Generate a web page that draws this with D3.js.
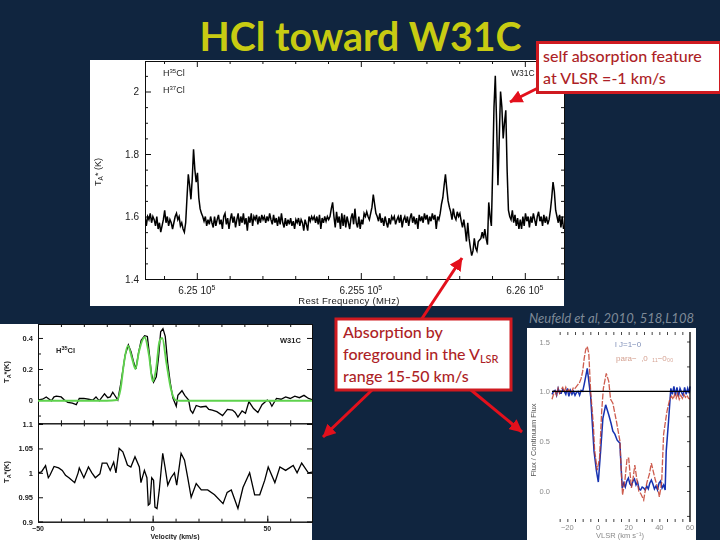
<!DOCTYPE html>
<html><head><meta charset="utf-8">
<script src="https://cdn.jsdelivr.net/npm/d3@7/dist/d3.min.js"></script>
<style>html,body{margin:0;padding:0;background:#10253f}svg{display:block}</style>
</head><body><svg id="c" width="720" height="540"></svg>
<script>
// ---- main spectrum: antenna temperature on a 4 MHz grid ----
const mainStart = 624842, mainStep = 4;
const mainT = [
1.60,1.57,1.60,1.59,1.61,1.58,1.60,1.59,1.57,1.60,
1.56,1.58,1.55,1.57,1.59,1.62,1.58,1.60,1.57,1.59,
1.58,1.56,1.58,1.60,1.61,1.59,1.60,1.57,1.58,1.56,
1.55,1.58,1.66,1.735,1.70,1.655,1.72,1.815,1.75,1.71,
1.74,1.66,1.625,1.61,1.60,1.585,1.60,1.57,1.59,1.575,
1.60,1.58,1.565,1.60,1.57,1.59,1.605,1.575,1.59,1.56,
1.60,1.61,1.575,1.595,1.56,1.59,1.61,1.58,1.60,1.565,
1.59,1.61,1.57,1.60,1.58,1.61,1.575,1.595,1.555,1.60,
1.58,1.61,1.57,1.60,1.59,1.605,1.575,1.60,1.58,1.605,
1.59,1.60,1.58,1.60,1.585,1.61,1.59,1.575,1.605,1.58,
1.595,1.57,1.60,1.575,1.61,1.58,1.565,1.595,1.57,1.59,
1.575,1.595,1.57,1.585,1.56,1.59,1.58,1.595,1.57,1.59,
1.58,1.555,1.59,1.575,1.555,1.60,1.585,1.60,1.59,1.60,
1.58,1.60,1.575,1.605,1.56,1.595,1.58,1.60,1.585,1.60,
1.59,1.60,1.625,1.645,1.60,1.565,1.615,1.58,1.60,1.56,
1.61,1.57,1.605,1.565,1.60,1.58,1.56,1.595,1.61,1.575,
1.625,1.58,1.565,1.60,1.56,1.59,1.575,1.61,1.60,1.615,
1.60,1.59,1.61,1.63,1.67,1.64,1.61,1.60,1.585,1.61,
1.58,1.595,1.57,1.60,1.58,1.565,1.595,1.575,1.60,1.59,
1.60,1.575,1.59,1.60,1.58,1.605,1.565,1.59,1.60,1.58,
1.60,1.57,1.595,1.61,1.58,1.60,1.575,1.595,1.56,1.605,
1.585,1.60,1.58,1.61,1.59,1.605,1.575,1.60,1.585,1.61,
1.59,1.605,1.56,1.60,1.59,1.61,1.64,1.66,1.70,1.735,
1.69,1.65,1.63,1.615,1.59,1.625,1.60,1.59,1.615,1.60,
1.61,1.585,1.565,1.59,1.56,1.52,1.58,1.53,1.50,1.475,
1.49,1.53,1.50,1.49,1.52,1.525,1.53,1.55,1.53,1.56,
1.53,1.51,1.645,1.60,1.57,1.75,1.95,2.05,1.90,1.70,
1.85,2.00,1.95,1.85,1.90,1.94,1.75,1.62,1.60,1.59,
1.62,1.58,1.605,1.57,1.595,1.56,1.59,1.56,1.60,1.57,
1.61,1.585,1.60,1.565,1.60,1.58,1.61,1.59,1.57,1.60,
1.615,1.585,1.60,1.57,1.605,1.58,1.60,1.575,1.59,1.62,
1.66,1.71,1.68,1.62,1.60,1.58,1.605,1.565,1.60,1.56];
const mainYTicks = [2,1.8,1.6,1.4];
const mainXMajor = [625000,625500,626000];

// ---- lower-left panel: H35Cl line and continuum ----
const upV = [-50,-48,-46.4,-44.2,-43,-42,-39.9,-38.5,-37,-35,-33.3,-32,-30,-28,-26,-24.7,-23.3,-21,-19.6,-18.5,-17.4,-15.2,-14,-13,-12,-10.6,-9.4,-8.4,-7.3,-6.2,-5,-3.5,-2.3,-1.3,-0.6,0.4,1.6,2.6,3.5,4.5,5.5,6.6,7.7,8.8,10.3,11,12.8,14,15.7,16.5,17.5,19,21,23.3,24.5,26,28,30.5,32.6,34.8,36,37.2,39,40.5,42,44,45.9,47.7,50,51,52,54,56,58,60,62,64,66,68,70];
const upT = [0,0.005,0.02,-0.005,0.02,0.025,0.02,0,-0.015,-0.02,-0.03,0.01,0.01,0.005,0,0.02,-0.005,0.04,0.015,0.02,0.05,0,0.097,0.19,0.29,0.355,0.31,0.25,0.2,0.3,0.385,0.415,0.41,0.28,0.175,0.115,0.15,0.28,0.44,0.46,0.41,0.235,0.11,0.015,-0.04,0.03,0.06,0.03,0,-0.065,-0.085,-0.035,-0.045,-0.04,-0.06,-0.065,-0.075,-0.1,-0.06,-0.065,-0.08,-0.11,-0.07,-0.085,-0.01,-0.055,-0.08,-0.03,0,-0.01,-0.04,0.01,0.005,0.02,0.01,0.025,0.015,0.03,0.01,0];
const fitV = [-50,-20,-15.5,-14,-12.5,-10.8,-9,-7.5,-6,-3.5,-1.5,0,1.5,3,4.2,6,8,10,12,70];
const fitT = [-0.005,-0.005,0,0.07,0.24,0.35,0.27,0.2,0.31,0.405,0.28,0.12,0.2,0.38,0.4,0.24,0.07,0,-0.005,-0.005];
const loV = [-50,-48.5,-46.7,-45.5,-44.8,-43,-41,-39.4,-38,-36.5,-34,-32.5,-32,-30,-28,-26.5,-25,-23,-22,-20,-18.5,-17,-16,-14.6,-13,-12,-11,-9.5,-7.7,-5.8,-5.1,-3.6,-2.5,-1.9,-1.2,-0.4,0.4,1,1.9,2.9,4.4,5.4,6.6,8,9.5,10.5,12.4,13.9,15.3,16.8,19,21.2,24,27,30.7,32.5,34.3,37.2,39.4,42.3,44.5,46.7,48.9,50.4,53.3,55.5,58,61.3,63,65,67.9,70];
const loT = [1,1.002,1.015,0.99,0.995,1.013,1.01,1.005,0.995,0.99,0.98,1.0,1.01,0.99,1.012,1.0,0.99,0.998,1.02,1.02,1.005,1.022,1.0,1.05,1.043,1.03,1.016,1.012,1.033,1.012,0.98,1.005,0.99,0.934,0.937,0.99,0.985,0.93,0.927,0.965,1.04,1.012,0.975,0.99,1.0,0.975,1.04,1.026,0.99,0.95,0.978,0.965,0.965,0.955,0.937,0.96,0.965,0.927,0.97,1.0,0.955,0.955,0.985,1.012,0.98,1.012,1.005,1.015,1.0,1.02,1.0,1.002];
const leftUpTicks = [0.4,0.2,0];
const leftLoTicks = [1.1,1.05,1,0.95,0.9];
const leftXLabels = [-50,0,50];

// ---- lower-right panel: flux / continuum flux ----
const blueV = [-30,-29,-28,-27,-26,-25,-24,-23,-22,-21,-20,-19,-18,-17,-16,-15,-14,-13,-12,-11,-10,-9,-7,-4.8,-2.6,-1,0.2,1.7,3.2,5,7,8.5,9.7,11,12.5,14.3,14.7,15.8,16.8,17.8,18.8,19.8,20.8,21.8,22.8,23.8,24.8,25.8,26.8,27.8,28.8,29.8,30.8,31.8,32.8,33.8,34.8,35.8,36.8,37.8,38.8,39.8,40.8,41.8,42.8,43.8,44.5,46,47.5,48.5,49.5,50.5,51.5,52.5,53.5,54.5,55.5,56.5,57.5,58.5,59.5,60];
const blueF = [0.97,1.0,1.01,0.96,1.03,0.98,0.98,1.02,1.0,0.97,1.03,0.95,1.01,0.97,1.0,0.96,0.99,1.0,0.96,1.01,1.0,1.07,1.23,0.95,0.4,0.2,0.09,0.4,0.73,0.865,0.765,0.68,0.6,0.57,0.51,0.48,0.35,0.03,0.08,0.04,0.1,0.13,0.07,0.05,0.1,0.12,0.06,0.09,0.02,0.01,0.04,0.03,0.01,0.05,0.02,0.08,0.11,0.07,0.02,0.05,0.01,0.08,0.1,0.03,0.06,0.01,0.4,0.7,1.03,0.97,1.05,0.96,1.04,0.95,1.03,0.99,0.96,1.04,0.97,1.03,0.98,1.05];
const redV = [-30,-29,-28,-27,-26,-25,-24,-23,-22,-21,-20,-19,-18,-17,-16,-15,-14,-13,-12,-11,-10,-9,-8,-7,-6,-4.8,-3,-2.2,-0.5,1,2.4,3.5,5.4,7,8.2,9.7,12,14.3,14.7,16,17.5,19,20,21.8,23,24,25.5,26.6,28,29.8,31,32,33.5,34.8,36,37.4,39,40,41.5,42.8,44,45,46,47,48,49,50,51,52,53,54,55,56,57,58,59,60];
const redF = [0.92,0.97,1.0,0.96,1.03,0.98,1.02,1.04,0.99,1.04,1.0,1.02,0.99,1.0,1.04,1.03,1.05,1.07,1.09,1.13,1.2,1.33,1.42,1.45,1.38,1.0,0.66,0.41,0.21,0.33,0.8,1.03,1.18,1.1,0.92,0.88,0.7,0.5,0.35,-0.04,0.1,0.33,0.33,0.03,0.14,0.26,0.1,0,-0.03,-0.09,0.02,0.09,0.17,0.28,0.2,0.11,0.03,-0.06,0.08,0.57,0.7,0.8,0.87,0.93,0.95,0.92,0.97,0.93,0.98,0.92,0.96,0.93,0.97,0.94,0.96,0.93,0.92];
const rightYTicks = [1.5,1,0.5,0];
const rightXTicks = [-20,0,20,40,60];

// ---- text ----
const titleText = "HCl toward W31C";
const box1Lines = ["self absorption feature","at VLSR =-1 km/s"];
const citation = "Neufeld et al, 2010, 518,L108";

const svg = d3.select("#c");
const defs = svg.append("defs");
defs.append("filter").attr("id","soft").append("feGaussianBlur").attr("stdDeviation",0.45);
defs.append("filter").attr("id","softer").append("feGaussianBlur").attr("stdDeviation",0.65);
defs.append("marker").attr("id","ah").attr("viewBox","0 0 10 10").attr("refX",9.5).attr("refY",5)
  .attr("markerWidth",13).attr("markerHeight",13).attr("markerUnits","userSpaceOnUse").attr("orient","auto")
  .append("path").attr("d","M0,0L10,5L0,10Z").attr("fill","#e3101c");
defs.append("clipPath").attr("id","cMain").append("rect").attr("x",145).attr("y",61).attr("width",419).attr("height",218);
defs.append("clipPath").attr("id","cLeft").append("rect").attr("x",38).attr("y",324).attr("width",274).attr("height",198);

svg.append("rect").attr("width",720).attr("height",540).attr("fill","#10253f");

function sty(g, col, w){
  g.selectAll(".domain").attr("stroke",col).attr("stroke-width",w);
  g.selectAll(".tick line").attr("stroke",col).attr("stroke-width",w);
  return g;
}
const FF = "Liberation Sans, Arial, sans-serif";
function ax(g, axis, tr, col, w){
  const s = g.append("g").attr("transform",tr).call(axis);
  s.attr("font-family",FF);
  sty(s,col||"#111",w||1);
  return s;
}
function range(a,b,s){const o=[];for(let v=a;v<=b+1e-9;v+=s)o.push(+v.toFixed(4));return o;}

// ===== MAIN PANEL =====
const gM = svg.append("g").attr("filter","url(#soft)");
gM.append("rect").attr("x",90).attr("y",60).attr("width",474).attr("height",246).attr("fill","#fff");
const mx = d3.scaleLinear().domain([mainStart, mainStart+419/0.328]).range([145,564]);
const my = d3.scaleLinear().domain([1.4,1.4+218/312.5]).range([279,61]);
const mf = d3.range(624900,626101,100);
const mfMajor = mf.filter(f=>mainXMajor.includes(f));
const mfMinor = mf.filter(f=>!mainXMajor.includes(f));
[[279,d3.axisBottom],[61,d3.axisTop]].forEach(([yy,A])=>{
  ax(gM, A(mx).tickValues(mfMinor).tickSize(-3).tickFormat(""), `translate(0,${yy})`);
  ax(gM, A(mx).tickValues(mfMajor).tickSize(-6).tickFormat(""), `translate(0,${yy})`);
});
const myMinor = range(1.4,2.05,0.05).filter(v=>!mainYTicks.includes(v));
[[145,d3.axisLeft],[564,d3.axisRight]].forEach(([xx,A])=>{
  ax(gM, A(my).tickValues(myMinor).tickSize(-3).tickFormat(""), `translate(${xx},0)`);
  ax(gM, A(my).tickValues(mainYTicks).tickSize(-6).tickFormat(""), `translate(${xx},0)`);
});
const tM = gM.append("g").attr("font-family",FF).attr("fill","#222");
mainYTicks.forEach(v=>tM.append("text").attr("x",139).attr("y",my(v)+3.5).attr("text-anchor","end").attr("font-size",10).text(v));
mainXMajor.forEach(f=>{
  const t=tM.append("text").attr("x",mx(f)).attr("y",294).attr("text-anchor","middle").attr("font-size",10);
  t.append("tspan").text(String(f/1e5)+" 10");
  t.append("tspan").attr("font-size",7).attr("dy",-4).text("5");
});
tM.append("text").attr("x",349).attr("y",304).attr("text-anchor","middle").attr("font-size",9.5).attr("letter-spacing",0.3).text("Rest Frequency (MHz)");
{const t=tM.append("text").attr("transform","translate(101,172) rotate(-90)").attr("text-anchor","middle").attr("font-size",9);
 t.append("tspan").text("T");t.append("tspan").attr("font-size",6.5).attr("dy",2).text("A");t.append("tspan").attr("dy",-2).text("* (K)");}
[["35",76],["37",93]].forEach(([iso,yy])=>{
  const t=tM.append("text").attr("x",163).attr("y",yy).attr("font-size",9);
  t.append("tspan").text("H");
  t.append("tspan").attr("font-size",6).attr("dy",-3).text(iso);
  t.append("tspan").attr("dy",3).text("Cl");
});
tM.append("text").attr("x",511).attr("y",76).attr("font-size",8.5).text("W31C");
gM.append("path").attr("clip-path","url(#cMain)").attr("fill","none").attr("stroke","#000").attr("stroke-width",1.5)
  .attr("d",d3.line().x((d,i)=>mx(mainStart+i*mainStep)).y(d=>my(d))(mainT));

// ===== LEFT PANEL =====
const gL = svg.append("g").attr("filter","url(#soft)");
gL.append("rect").attr("x",0).attr("y",324).attr("width",312).attr("height",216).attr("fill","#fff");
const lx = d3.scaleLinear().domain([-50,69.5]).range([38,312]);
const ly1 = d3.scaleLinear().domain([-0.15,0.49]).range([423.3,324]);
const ly2 = d3.scaleLinear().domain([0.9,1.1]).range([521.7,424]);
const lxAll = range(-50,60,10);
ax(gL,d3.axisBottom(lx).tickValues(lxAll).tickSize(-3).tickFormat(""),"translate(0,521.7)");
ax(gL,d3.axisBottom(lx).tickValues(lxAll).tickSize(3).tickFormat(""),"translate(0,423.3)");
ax(gL,d3.axisBottom(lx).tickValues(lxAll).tickSize(-3).tickFormat(""),"translate(0,423.3)");
ax(gL,d3.axisTop(lx).tickValues(lxAll).tickSize(-3).tickFormat(""),"translate(0,324)");
ax(gL,d3.axisBottom(lx).tickValues(leftXLabels).tickSize(-6).tickFormat(""),"translate(0,521.7)");
ax(gL,d3.axisBottom(lx).tickValues([0]).tickSize(4).tickFormat(""),"translate(0,421)",null,1.6).select(".domain").remove();
ax(gL,d3.axisLeft(ly1).tickValues(leftUpTicks).tickSize(-5).tickFormat(""),"translate(38,0)");
ax(gL,d3.axisLeft(ly1).tickValues([-0.1,0.1,0.3]).tickSize(-3).tickFormat(""),"translate(38,0)");
ax(gL,d3.axisLeft(ly2).tickValues(leftLoTicks).tickSize(-5).tickFormat(""),"translate(38,0)");
ax(gL,d3.axisRight(ly1).tickValues(leftUpTicks).tickSize(-5).tickFormat(""),"translate(312,0)");
ax(gL,d3.axisRight(ly2).tickValues(leftLoTicks).tickSize(-5).tickFormat(""),"translate(312,0)");
const tL = gL.append("g").attr("font-family",FF).attr("fill","#222").attr("font-weight","bold");
leftUpTicks.forEach(v=>tL.append("text").attr("x",33).attr("y",ly1(v)+3).attr("text-anchor","end").attr("font-size",7.5).text(v));
leftLoTicks.forEach(v=>tL.append("text").attr("x",33).attr("y",ly2(v)+3).attr("text-anchor","end").attr("font-size",7.5).text(v));
leftXLabels.forEach(v=>tL.append("text").attr("x",lx(v)).attr("y",530.5).attr("text-anchor","middle").attr("font-size",7).text(v<0?"\u2212"+(-v):v));
tL.append("text").attr("x",175).attr("y",539).attr("text-anchor","middle").attr("font-size",7).text("Velocity (km/s)");
[372,472].forEach(yy=>{
  const t=tL.append("text").attr("transform",`translate(9,${yy}) rotate(-90)`).attr("text-anchor","middle").attr("font-size",7.5);
  t.append("tspan").text("T");t.append("tspan").attr("font-size",5.5).attr("dy",2).text("A");
  t.append("tspan").attr("dy",-2).text("*(K)");
});
{const t=tL.append("text").attr("x",56).attr("y",353).attr("font-size",7.5);
 t.append("tspan").text("H");t.append("tspan").attr("font-size",5.5).attr("dy",-3).text("35");t.append("tspan").attr("dy",3).text("Cl");}
tL.append("text").attr("x",280).attr("y",343).attr("font-size",7.5).text("W31C");
const gLc = gL.append("g").attr("clip-path","url(#cLeft)").attr("fill","none");
gLc.append("path").attr("stroke","#000").attr("stroke-width",1.3).attr("d",d3.line().x(d=>lx(d[0])).y(d=>ly1(d[1]))(d3.zip(upV,upT)));
gLc.append("path").attr("stroke","#5ed24e").attr("stroke-width",1.9).attr("d",d3.line().x(d=>lx(d[0])).y(d=>ly1(d[1])).curve(d3.curveMonotoneX)(d3.zip(fitV,fitT)));
gLc.append("path").attr("stroke","#000").attr("stroke-width",1.3).attr("d",d3.line().x(d=>lx(d[0])).y(d=>ly2(d[1]))(d3.zip(loV,loT)));

// ===== RIGHT PANEL =====
const gR = svg.append("g").attr("filter","url(#softer)");
gR.append("rect").attr("x",527).attr("y",328).attr("width",169).attr("height",212).attr("fill","#fff");
const rx = d3.scaleLinear().domain([-30,60]).range([552,690]);
const ry = d3.scaleLinear().domain([0,1.5]).range([491,341.5]);
const rxT = range(-25,55,5);
const rPlotTop = 332, rPlotBot = 522;
ax(gR,d3.axisBottom(rx).tickValues(rxT).tickSize(-3).tickFormat(""),`translate(0,${rPlotBot})`,"#444",1).select(".domain").remove();
ax(gR,d3.axisTop(rx).tickValues(rxT).tickSize(-3).tickFormat(""),`translate(0,${rPlotTop})`,"#444",1).select(".domain").remove();
ax(gR,d3.axisRight(ry).tickValues(range(-0.25,1.75,0.25)).tickSize(-3).tickFormat(""),"translate(690,0)","#444",1).select(".domain").remove();
const tR = gR.append("g").attr("font-family",FF).attr("fill","#8a8a8a");
rightYTicks.forEach(v=>tR.append("text").attr("x",550).attr("y",ry(v)+3).attr("text-anchor","end").attr("font-size",7.5).text(v.toFixed(1)));
rightXTicks.forEach(v=>tR.append("text").attr("x",rx(v)).attr("y",530).attr("text-anchor","middle").attr("font-size",7.5).text(v<0?"\u2212"+(-v):v));
tR.append("text").attr("x",620).attr("y",538).attr("text-anchor","middle").attr("font-size",7.5).text("VLSR (km s\u207b\u00b9)");
tR.append("text").attr("transform","translate(536,440) rotate(-90)").attr("text-anchor","middle").attr("font-size",7.5).attr("fill","#555").text("Flux / Continuum Flux");
tR.append("text").attr("x",615).attr("y",347).attr("font-size",8).attr("fill","#7f8fb8").text("l   J=1\u22120");
tR.append("text").attr("x",616).attr("y",361).attr("font-size",8).attr("fill","#d4a090").text("para\u2212 \u00a0,0 \u00a0\u2081\u2081\u22120\u2080\u2080");
gR.append("path").attr("fill","none").attr("stroke","#1530b0").attr("stroke-width",1.5).attr("d",d3.line().x(d=>rx(d[0])).y(d=>ry(d[1]))(d3.zip(blueV,blueF)));
gR.append("path").attr("fill","none").attr("stroke","#c4402f").attr("stroke-width",1.3).attr("opacity",0.85).attr("stroke-dasharray","6 1.5").attr("d",d3.line().x(d=>rx(d[0])).y(d=>ry(d[1]))(d3.zip(redV,redF)));
gR.append("line").attr("x1",rx(-30)).attr("x2",rx(60)).attr("y1",ry(1)).attr("y2",ry(1)).attr("stroke","#000").attr("stroke-width",1.3);
gR.append("line").attr("x1",rx(60)).attr("x2",rx(60)).attr("y1",rPlotTop).attr("y2",rPlotBot).attr("stroke","#000").attr("stroke-width",1.3);

// ===== TITLE =====
svg.append("text").attr("x",360.5).attr("y",51).attr("text-anchor","middle").attr("font-family","Lato, sans-serif")
  .attr("font-weight","bold").attr("font-size",39.3).attr("fill","#c8cb12").text(titleText);

// ===== CITATION =====
svg.append("text").attr("x",529).attr("y",323).attr("font-family","Lato, sans-serif").attr("font-style","italic")
  .attr("font-size",13).attr("fill","#7f8b98").text(citation);

// ===== ARROWS =====
function arrow(a,b,c,d){svg.append("line").attr("x1",a).attr("y1",b).attr("x2",c).attr("y2",d)
  .attr("stroke","#e3101c").attr("stroke-width",3).attr("marker-end","url(#ah)");}
arrow(538,88,510,102);
arrow(421,320,462,258);
arrow(372,390,323,437);
arrow(471,390,522,432);

// ===== CALLOUT BOXES =====
const red="#cf1a20", txt="#ad1f27";
svg.append("rect").attr("x",537.5).attr("y",42.5).attr("width",183).attr("height",50).attr("fill","#fff").attr("stroke",red).attr("stroke-width",3);
box1Lines.forEach((s,i)=>svg.append("text").attr("x",543).attr("y",62+i*22).attr("font-family","Lato, sans-serif")
  .attr("font-size",16).attr("font-weight",500).attr("fill",txt).attr("style","font-variant-ligatures:none").text(s));
svg.append("rect").attr("x",336).attr("y",319).attr("width",175).attr("height",71).attr("fill","#fff").attr("stroke",red).attr("stroke-width",3);
const tb = svg.append("g").attr("font-family","Lato, sans-serif").attr("font-size",16).attr("font-weight",500).attr("fill",txt);
tb.append("text").attr("x",343).attr("y",338).text("Absorption by");
const t2=tb.append("text").attr("x",343).attr("y",360);
t2.append("tspan").text("foreground in the V");
t2.append("tspan").attr("font-size",11).attr("dy",3).text("LSR");
tb.append("text").attr("x",343).attr("y",382).text("range 15-50 km/s");
</script></body></html>
